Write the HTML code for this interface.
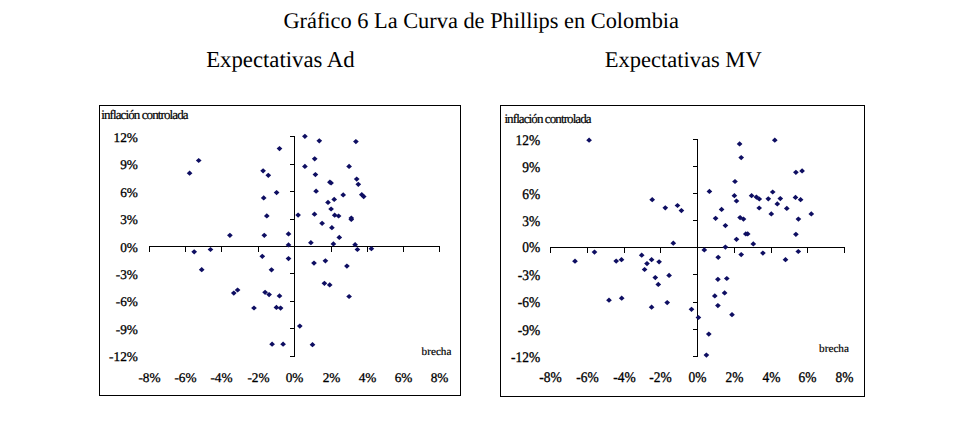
<!DOCTYPE html>
<html><head><meta charset="utf-8"><style>
html,body{margin:0;padding:0;background:#fff;width:967px;height:439px;overflow:hidden}
svg{display:block;font-family:"Liberation Serif",serif;fill:#000;text-rendering:geometricPrecision}
.ln{fill:none;stroke:#000;stroke-width:1}
.d{fill:#0e0e62}
.t{stroke:#000;stroke-width:0.3px}
.t2{stroke:#000;stroke-width:0.2px}
</style></head><body>
<svg width="967" height="439" viewBox="0 0 967 439">
<text x="283.4" y="27.8" font-size="22.36">Gráfico 6 La Curva de Phillips en Colombia</text>
<text x="206.2" y="66.9" font-size="22.75">Expectativas Ad</text>
<text x="604.8" y="66.9" font-size="22.5">Expectativas MV</text>
<rect x="99.5" y="105.5" width="361" height="290" class="ln"/>
<path d="M149 246.5H440M149.5 246v6M185.5 246v6M221.5 246v6M258.5 246v6M294.5 246v6M331.5 246v6M367.5 246v6M403.5 246v6M439.5 246v6M294.5 136V357M290 136.5h5M290 164.5h5M290 191.5h5M290 219.5h5M290 246.5h5M290 273.5h5M290 301.5h5M290 328.5h5M290 356.5h5" class="ln"/>
<text transform="translate(137.9 141.55) scale(1 1.0)" text-anchor="end" font-size="13.3" class="t">12%</text>
<text transform="translate(137.9 169.04) scale(1 1.0)" text-anchor="end" font-size="13.3" class="t">9%</text>
<text transform="translate(137.9 196.53) scale(1 1.0)" text-anchor="end" font-size="13.3" class="t">6%</text>
<text transform="translate(137.9 224.02) scale(1 1.0)" text-anchor="end" font-size="13.3" class="t">3%</text>
<text transform="translate(137.9 251.51) scale(1 1.0)" text-anchor="end" font-size="13.3" class="t">0%</text>
<text transform="translate(137.9 279.00) scale(1 1.0)" text-anchor="end" font-size="13.3" class="t">-3%</text>
<text transform="translate(137.9 306.49) scale(1 1.0)" text-anchor="end" font-size="13.3" class="t">-6%</text>
<text transform="translate(137.9 333.98) scale(1 1.0)" text-anchor="end" font-size="13.3" class="t">-9%</text>
<text transform="translate(137.9 361.47) scale(1 1.0)" text-anchor="end" font-size="13.3" class="t">-12%</text>
<text transform="translate(149.5 381.9) scale(1 1.0)" text-anchor="middle" font-size="13.3" class="t">-8%</text>
<text transform="translate(185.5 381.9) scale(1 1.0)" text-anchor="middle" font-size="13.3" class="t">-6%</text>
<text transform="translate(221.5 381.9) scale(1 1.0)" text-anchor="middle" font-size="13.3" class="t">-4%</text>
<text transform="translate(258.5 381.9) scale(1 1.0)" text-anchor="middle" font-size="13.3" class="t">-2%</text>
<text transform="translate(294.5 381.9) scale(1 1.0)" text-anchor="middle" font-size="13.3" class="t">0%</text>
<text transform="translate(331.5 381.9) scale(1 1.0)" text-anchor="middle" font-size="13.3" class="t">2%</text>
<text transform="translate(367.5 381.9) scale(1 1.0)" text-anchor="middle" font-size="13.3" class="t">4%</text>
<text transform="translate(403.5 381.9) scale(1 1.0)" text-anchor="middle" font-size="13.3" class="t">6%</text>
<text transform="translate(439.5 381.9) scale(1 1.0)" text-anchor="middle" font-size="13.3" class="t">8%</text>
<text x="101.3" y="118.8" font-size="13.0" letter-spacing="-0.9" class="t2">inflación controlada</text>
<text x="421.6" y="354.8" font-size="11.2" class="t2">brecha</text>
<path d="M276.65 148.60L279.50 146.00L282.35 148.60L279.50 151.20Z" class="d"/>
<path d="M195.85 160.50L198.70 157.90L201.55 160.50L198.70 163.10Z" class="d"/>
<path d="M186.75 173.20L189.60 170.60L192.45 173.20L189.60 175.80Z" class="d"/>
<path d="M260.25 170.80L263.10 168.20L265.95 170.80L263.10 173.40Z" class="d"/>
<path d="M265.45 175.30L268.30 172.70L271.15 175.30L268.30 177.90Z" class="d"/>
<path d="M302.05 136.30L304.90 133.70L307.75 136.30L304.90 138.90Z" class="d"/>
<path d="M316.45 140.80L319.30 138.20L322.15 140.80L319.30 143.40Z" class="d"/>
<path d="M353.05 141.60L355.90 139.00L358.75 141.60L355.90 144.20Z" class="d"/>
<path d="M311.85 158.80L314.70 156.20L317.55 158.80L314.70 161.40Z" class="d"/>
<path d="M302.05 166.40L304.90 163.80L307.75 166.40L304.90 169.00Z" class="d"/>
<path d="M346.25 166.40L349.10 163.80L351.95 166.40L349.10 169.00Z" class="d"/>
<path d="M312.55 174.60L315.40 172.00L318.25 174.60L315.40 177.20Z" class="d"/>
<path d="M353.85 179.10L356.70 176.50L359.55 179.10L356.70 181.70Z" class="d"/>
<path d="M355.45 184.30L358.30 181.70L361.15 184.30L358.30 186.90Z" class="d"/>
<path d="M327.05 182.20L329.90 179.60L332.75 182.20L329.90 184.80Z" class="d"/>
<path d="M328.25 183.00L331.10 180.40L333.95 183.00L331.10 185.60Z" class="d"/>
<path d="M340.35 194.90L343.20 192.30L346.05 194.90L343.20 197.50Z" class="d"/>
<path d="M358.95 194.70L361.80 192.10L364.65 194.70L361.80 197.30Z" class="d"/>
<path d="M360.85 196.60L363.70 194.00L366.55 196.60L363.70 199.20Z" class="d"/>
<path d="M273.75 192.60L276.60 190.00L279.45 192.60L276.60 195.20Z" class="d"/>
<path d="M260.85 197.90L263.70 195.30L266.55 197.90L263.70 200.50Z" class="d"/>
<path d="M263.95 215.90L266.80 213.30L269.65 215.90L266.80 218.50Z" class="d"/>
<path d="M295.25 215.10L298.10 212.50L300.95 215.10L298.10 217.70Z" class="d"/>
<path d="M227.05 235.30L229.90 232.70L232.75 235.30L229.90 237.90Z" class="d"/>
<path d="M261.45 235.30L264.30 232.70L267.15 235.30L264.30 237.90Z" class="d"/>
<path d="M285.65 233.90L288.50 231.30L291.35 233.90L288.50 236.50Z" class="d"/>
<path d="M285.65 244.90L288.50 242.30L291.35 244.90L288.50 247.50Z" class="d"/>
<path d="M207.65 249.50L210.50 246.90L213.35 249.50L210.50 252.10Z" class="d"/>
<path d="M191.35 251.80L194.20 249.20L197.05 251.80L194.20 254.40Z" class="d"/>
<path d="M313.25 191.20L316.10 188.60L318.95 191.20L316.10 193.80Z" class="d"/>
<path d="M331.35 199.40L334.20 196.80L337.05 199.40L334.20 202.00Z" class="d"/>
<path d="M325.15 202.40L328.00 199.80L330.85 202.40L328.00 205.00Z" class="d"/>
<path d="M328.25 209.00L331.10 206.40L333.95 209.00L331.10 211.60Z" class="d"/>
<path d="M311.65 214.20L314.50 211.60L317.35 214.20L314.50 216.80Z" class="d"/>
<path d="M331.85 215.20L334.70 212.60L337.55 215.20L334.70 217.80Z" class="d"/>
<path d="M335.75 216.00L338.60 213.40L341.45 216.00L338.60 218.60Z" class="d"/>
<path d="M348.45 218.00L351.30 215.40L354.15 218.00L351.30 220.60Z" class="d"/>
<path d="M348.45 219.40L351.30 216.80L354.15 219.40L351.30 222.00Z" class="d"/>
<path d="M319.25 223.30L322.10 220.70L324.95 223.30L322.10 225.90Z" class="d"/>
<path d="M329.05 227.70L331.90 225.10L334.75 227.70L331.90 230.30Z" class="d"/>
<path d="M336.45 237.40L339.30 234.80L342.15 237.40L339.30 240.00Z" class="d"/>
<path d="M308.05 242.70L310.90 240.10L313.75 242.70L310.90 245.30Z" class="d"/>
<path d="M330.55 243.90L333.40 241.30L336.25 243.90L333.40 246.50Z" class="d"/>
<path d="M352.25 244.70L355.10 242.10L357.95 244.70L355.10 247.30Z" class="d"/>
<path d="M354.55 249.50L357.40 246.90L360.25 249.50L357.40 252.10Z" class="d"/>
<path d="M368.55 248.70L371.40 246.10L374.25 248.70L371.40 251.30Z" class="d"/>
<path d="M198.85 269.70L201.70 267.10L204.55 269.70L201.70 272.30Z" class="d"/>
<path d="M259.45 256.30L262.30 253.70L265.15 256.30L262.30 258.90Z" class="d"/>
<path d="M285.65 258.60L288.50 256.00L291.35 258.60L288.50 261.20Z" class="d"/>
<path d="M268.65 269.80L271.50 267.20L274.35 269.80L271.50 272.40Z" class="d"/>
<path d="M230.95 293.10L233.80 290.50L236.65 293.10L233.80 295.70Z" class="d"/>
<path d="M234.75 290.00L237.60 287.40L240.45 290.00L237.60 292.60Z" class="d"/>
<path d="M262.25 292.30L265.10 289.70L267.95 292.30L265.10 294.90Z" class="d"/>
<path d="M266.25 294.60L269.10 292.00L271.95 294.60L269.10 297.20Z" class="d"/>
<path d="M276.65 295.90L279.50 293.30L282.35 295.90L279.50 298.50Z" class="d"/>
<path d="M251.15 308.00L254.00 305.40L256.85 308.00L254.00 310.60Z" class="d"/>
<path d="M273.55 307.40L276.40 304.80L279.25 307.40L276.40 310.00Z" class="d"/>
<path d="M277.75 308.10L280.60 305.50L283.45 308.10L280.60 310.70Z" class="d"/>
<path d="M311.15 263.10L314.00 260.50L316.85 263.10L314.00 265.70Z" class="d"/>
<path d="M322.55 260.80L325.40 258.20L328.25 260.80L325.40 263.40Z" class="d"/>
<path d="M344.05 266.10L346.90 263.50L349.75 266.10L346.90 268.70Z" class="d"/>
<path d="M321.55 283.30L324.40 280.70L327.25 283.30L324.40 285.90Z" class="d"/>
<path d="M326.85 284.90L329.70 282.30L332.55 284.90L329.70 287.50Z" class="d"/>
<path d="M346.25 296.50L349.10 293.90L351.95 296.50L349.10 299.10Z" class="d"/>
<path d="M269.25 344.20L272.10 341.60L274.95 344.20L272.10 346.80Z" class="d"/>
<path d="M280.25 344.20L283.10 341.60L285.95 344.20L283.10 346.80Z" class="d"/>
<path d="M296.95 326.10L299.80 323.50L302.65 326.10L299.80 328.70Z" class="d"/>
<path d="M309.65 344.70L312.50 342.10L315.35 344.70L312.50 347.30Z" class="d"/>
<rect x="500.5" y="105.5" width="364" height="291" class="ln"/>
<path d="M550 247.5H845M550.5 247v6M587.5 247v6M624.5 247v6M660.5 247v6M697.5 247v6M734.5 247v6M771.5 247v6M807.5 247v6M844.5 247v6M697.5 139V357M693 139.5h5M693 166.5h5M693 193.5h5M693 220.5h5M693 247.5h5M693 274.5h5M693 302.5h5M693 329.5h5M693 356.5h5" class="ln"/>
<text transform="translate(540.2 144.50) scale(1 1.09)" text-anchor="end" font-size="13.45" class="t">12%</text>
<text transform="translate(540.2 171.50) scale(1 1.09)" text-anchor="end" font-size="13.45" class="t">9%</text>
<text transform="translate(540.2 198.60) scale(1 1.09)" text-anchor="end" font-size="13.45" class="t">6%</text>
<text transform="translate(540.2 225.80) scale(1 1.09)" text-anchor="end" font-size="13.45" class="t">3%</text>
<text transform="translate(540.2 252.40) scale(1 1.09)" text-anchor="end" font-size="13.45" class="t">0%</text>
<text transform="translate(540.2 279.80) scale(1 1.09)" text-anchor="end" font-size="13.45" class="t">-3%</text>
<text transform="translate(540.2 306.60) scale(1 1.09)" text-anchor="end" font-size="13.45" class="t">-6%</text>
<text transform="translate(540.2 334.50) scale(1 1.09)" text-anchor="end" font-size="13.45" class="t">-9%</text>
<text transform="translate(540.2 361.70) scale(1 1.09)" text-anchor="end" font-size="13.45" class="t">-12%</text>
<text transform="translate(550.5 381.9) scale(1 1.09)" text-anchor="middle" font-size="13.45" class="t">-8%</text>
<text transform="translate(587.5 381.9) scale(1 1.09)" text-anchor="middle" font-size="13.45" class="t">-6%</text>
<text transform="translate(624.5 381.9) scale(1 1.09)" text-anchor="middle" font-size="13.45" class="t">-4%</text>
<text transform="translate(660.5 381.9) scale(1 1.09)" text-anchor="middle" font-size="13.45" class="t">-2%</text>
<text transform="translate(697.5 381.9) scale(1 1.09)" text-anchor="middle" font-size="13.45" class="t">0%</text>
<text transform="translate(734.5 381.9) scale(1 1.09)" text-anchor="middle" font-size="13.45" class="t">2%</text>
<text transform="translate(771.5 381.9) scale(1 1.09)" text-anchor="middle" font-size="13.45" class="t">4%</text>
<text transform="translate(807.5 381.9) scale(1 1.09)" text-anchor="middle" font-size="13.45" class="t">6%</text>
<text transform="translate(844.5 381.9) scale(1 1.09)" text-anchor="middle" font-size="13.45" class="t">8%</text>
<text x="504.4" y="122.6" font-size="13.0" letter-spacing="-0.9" class="t2">inflación controlada</text>
<text x="819.1" y="352.1" font-size="11.2" class="t2">brecha</text>
<path d="M586.25 140.20L589.10 137.60L591.95 140.20L589.10 142.80Z" class="d"/>
<path d="M771.95 140.20L774.80 137.60L777.65 140.20L774.80 142.80Z" class="d"/>
<path d="M736.75 143.90L739.60 141.30L742.45 143.90L739.60 146.50Z" class="d"/>
<path d="M738.35 157.60L741.20 155.00L744.05 157.60L741.20 160.20Z" class="d"/>
<path d="M793.05 172.30L795.90 169.70L798.75 172.30L795.90 174.90Z" class="d"/>
<path d="M799.25 170.90L802.10 168.30L804.95 170.90L802.10 173.50Z" class="d"/>
<path d="M732.15 181.50L735.00 178.90L737.85 181.50L735.00 184.10Z" class="d"/>
<path d="M649.35 199.70L652.20 197.10L655.05 199.70L652.20 202.30Z" class="d"/>
<path d="M662.45 207.80L665.30 205.20L668.15 207.80L665.30 210.40Z" class="d"/>
<path d="M674.65 205.50L677.50 202.90L680.35 205.50L677.50 208.10Z" class="d"/>
<path d="M678.55 210.60L681.40 208.00L684.25 210.60L681.40 213.20Z" class="d"/>
<path d="M670.45 243.20L673.30 240.60L676.15 243.20L673.30 245.80Z" class="d"/>
<path d="M706.55 191.40L709.40 188.80L712.25 191.40L709.40 194.00Z" class="d"/>
<path d="M731.55 195.70L734.40 193.10L737.25 195.70L734.40 198.30Z" class="d"/>
<path d="M733.65 201.00L736.50 198.40L739.35 201.00L736.50 203.60Z" class="d"/>
<path d="M748.75 195.70L751.60 193.10L754.45 195.70L751.60 198.30Z" class="d"/>
<path d="M753.55 197.10L756.40 194.50L759.25 197.10L756.40 199.70Z" class="d"/>
<path d="M756.45 199.00L759.30 196.40L762.15 199.00L759.30 201.60Z" class="d"/>
<path d="M769.85 192.00L772.70 189.40L775.55 192.00L772.70 194.60Z" class="d"/>
<path d="M765.45 198.80L768.30 196.20L771.15 198.80L768.30 201.40Z" class="d"/>
<path d="M777.45 198.60L780.30 196.00L783.15 198.60L780.30 201.20Z" class="d"/>
<path d="M774.45 203.90L777.30 201.30L780.15 203.90L777.30 206.50Z" class="d"/>
<path d="M792.65 197.40L795.50 194.80L798.35 197.40L795.50 200.00Z" class="d"/>
<path d="M797.75 199.70L800.60 197.10L803.45 199.70L800.60 202.30Z" class="d"/>
<path d="M718.75 209.40L721.60 206.80L724.45 209.40L721.60 212.00Z" class="d"/>
<path d="M756.35 208.00L759.20 205.40L762.05 208.00L759.20 210.60Z" class="d"/>
<path d="M783.95 208.40L786.80 205.80L789.65 208.40L786.80 211.00Z" class="d"/>
<path d="M768.45 213.90L771.30 211.30L774.15 213.90L771.30 216.50Z" class="d"/>
<path d="M808.45 213.90L811.30 211.30L814.15 213.90L811.30 216.50Z" class="d"/>
<path d="M712.75 218.30L715.60 215.70L718.45 218.30L715.60 220.90Z" class="d"/>
<path d="M737.25 217.60L740.10 215.00L742.95 217.60L740.10 220.20Z" class="d"/>
<path d="M740.65 219.10L743.50 216.50L746.35 219.10L743.50 221.70Z" class="d"/>
<path d="M795.55 219.10L798.40 216.50L801.25 219.10L798.40 221.70Z" class="d"/>
<path d="M722.55 225.60L725.40 223.00L728.25 225.60L725.40 228.20Z" class="d"/>
<path d="M742.95 233.90L745.80 231.30L748.65 233.90L745.80 236.50Z" class="d"/>
<path d="M744.85 233.90L747.70 231.30L750.55 233.90L747.70 236.50Z" class="d"/>
<path d="M793.05 234.30L795.90 231.70L798.75 234.30L795.90 236.90Z" class="d"/>
<path d="M733.65 239.30L736.50 236.70L739.35 239.30L736.50 241.90Z" class="d"/>
<path d="M750.45 243.90L753.30 241.30L756.15 243.90L753.30 246.50Z" class="d"/>
<path d="M722.55 247.10L725.40 244.50L728.25 247.10L725.40 249.70Z" class="d"/>
<path d="M701.45 249.90L704.30 247.30L707.15 249.90L704.30 252.50Z" class="d"/>
<path d="M591.65 252.10L594.50 249.50L597.35 252.10L594.50 254.70Z" class="d"/>
<path d="M572.15 261.20L575.00 258.60L577.85 261.20L575.00 263.80Z" class="d"/>
<path d="M613.35 261.10L616.20 258.50L619.05 261.10L616.20 263.70Z" class="d"/>
<path d="M618.65 259.70L621.50 257.10L624.35 259.70L621.50 262.30Z" class="d"/>
<path d="M638.85 255.20L641.70 252.60L644.55 255.20L641.70 257.80Z" class="d"/>
<path d="M648.75 259.70L651.60 257.10L654.45 259.70L651.60 262.30Z" class="d"/>
<path d="M644.15 263.60L647.00 261.00L649.85 263.60L647.00 266.20Z" class="d"/>
<path d="M656.25 261.80L659.10 259.20L661.95 261.80L659.10 264.40Z" class="d"/>
<path d="M641.75 269.50L644.60 266.90L647.45 269.50L644.60 272.10Z" class="d"/>
<path d="M652.45 277.60L655.30 275.00L658.15 277.60L655.30 280.20Z" class="d"/>
<path d="M666.25 275.40L669.10 272.80L671.95 275.40L669.10 278.00Z" class="d"/>
<path d="M655.45 284.40L658.30 281.80L661.15 284.40L658.30 287.00Z" class="d"/>
<path d="M606.15 300.20L609.00 297.60L611.85 300.20L609.00 302.80Z" class="d"/>
<path d="M618.85 298.20L621.70 295.60L624.55 298.20L621.70 300.80Z" class="d"/>
<path d="M648.75 307.20L651.60 304.60L654.45 307.20L651.60 309.80Z" class="d"/>
<path d="M664.35 302.60L667.20 300.00L670.05 302.60L667.20 305.20Z" class="d"/>
<path d="M688.65 309.30L691.50 306.70L694.35 309.30L691.50 311.90Z" class="d"/>
<path d="M715.35 257.30L718.20 254.70L721.05 257.30L718.20 259.90Z" class="d"/>
<path d="M738.35 254.60L741.20 252.00L744.05 254.60L741.20 257.20Z" class="d"/>
<path d="M760.05 253.10L762.90 250.50L765.75 253.10L762.90 255.70Z" class="d"/>
<path d="M795.45 251.50L798.30 248.90L801.15 251.50L798.30 254.10Z" class="d"/>
<path d="M782.65 259.70L785.50 257.10L788.35 259.70L785.50 262.30Z" class="d"/>
<path d="M715.05 279.30L717.90 276.70L720.75 279.30L717.90 281.90Z" class="d"/>
<path d="M723.95 278.50L726.80 275.90L729.65 278.50L726.80 281.10Z" class="d"/>
<path d="M711.95 295.90L714.80 293.30L717.65 295.90L714.80 298.50Z" class="d"/>
<path d="M721.75 292.90L724.60 290.30L727.45 292.90L724.60 295.50Z" class="d"/>
<path d="M715.05 305.60L717.90 303.00L720.75 305.60L717.90 308.20Z" class="d"/>
<path d="M729.15 314.70L732.00 312.10L734.85 314.70L732.00 317.30Z" class="d"/>
<path d="M695.55 317.50L698.40 314.90L701.25 317.50L698.40 320.10Z" class="d"/>
<path d="M705.95 334.10L708.80 331.50L711.65 334.10L708.80 336.70Z" class="d"/>
<path d="M703.55 355.10L706.40 352.50L709.25 355.10L706.40 357.70Z" class="d"/>
</svg>
</body></html>
